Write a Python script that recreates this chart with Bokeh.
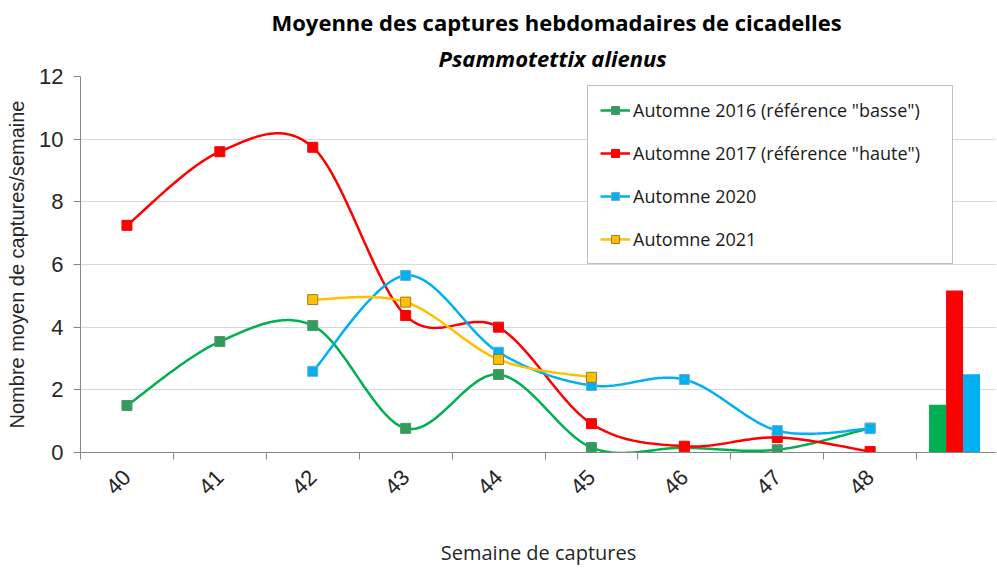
import math
import numpy as np
from bokeh.plotting import figure
from bokeh.models import (FixedTicker, Legend, LegendItem, Title, Range1d)
from bokeh.embed import file_html
from bokeh.resources import INLINE

# ---------------- data ----------------
weeks = ["40", "41", "42", "43", "44", "45", "46", "47", "48"]
series_names = ['Automne 2016 (référence "basse")',
                'Automne 2017 (référence "haute")',
                'Automne 2020',
                'Automne 2021']
s2016 = [1.50, 3.54, 4.05, 0.77, 2.49, 0.16, 0.15, 0.09, 0.78]
s2017 = [7.25, 9.60, 9.74, 4.37, 4.00, 0.92, 0.20, 0.48, 0.03]
s2020 = [None, None, 2.59, 5.65, 3.20, 2.14, 2.33, 0.70, 0.76]
s2021 = [None, None, 4.88, 4.80, 2.97, 2.40, None, None, None]
bar_values = [1.52, 5.17, 2.50, None]   # 2016, 2017, 2020, 2021 (empty)
y_ticks = [0, 2, 4, 6, 8, 10, 12]

# ---------------- styles ----------------
line_colors = ["#00B050", "#FF0000", "#00B0F0", "#FFC000"]
marker_fill = ["#2E9E5A", "#FF0000", "#00B0F0", "#FFC000"]
marker_line = ["#5C8F6C", "#FF0000", "#6FAECF", "#9C7A2E"]
bar_colors = ["#00B050", "#FF0000", "#00B0F0", "#FFC000"]


def smooth(xs, ys, n=40):
    """Excel-like smoothed line (Catmull-Rom as cubic Bezier)."""
    pts = list(zip(xs, ys))
    out_x, out_y = [], []
    m = len(pts)
    for i in range(m - 1):
        p0 = pts[i - 1] if i > 0 else pts[i]
        p1 = pts[i]
        p2 = pts[i + 1]
        p3 = pts[i + 2] if i + 2 < m else pts[i + 1]
        c1 = (p1[0] + (p2[0] - p0[0]) / 6, p1[1] + (p2[1] - p0[1]) / 6)
        c2 = (p2[0] - (p3[0] - p1[0]) / 6, p2[1] - (p3[1] - p1[1]) / 6)
        for t in np.linspace(0, 1, n, endpoint=(i == m - 2)):
            a = (1 - t) ** 3
            b = 3 * (1 - t) ** 2 * t
            c = 3 * (1 - t) * t ** 2
            d = t ** 3
            out_x.append(a * p1[0] + b * c1[0] + c * c2[0] + d * p2[0])
            out_y.append(a * p1[1] + b * c1[1] + c * c2[1] + d * p2[1])
    return out_x, out_y


p = figure(width=996, height=569, output_backend="svg", toolbar_location=None,
           x_range=Range1d(-0.5, 9.36), y_range=Range1d(0, 12),
           min_border_left=80, min_border_right=0, min_border_top=76,
           min_border_bottom=117)
p.outline_line_color = None
p.background_fill_color = "white"
p.border_fill_color = "white"

# titles (last added is outermost)
p.add_layout(Title(text="Psammotettix alienus", align="left",
                   text_font="Open Sans", text_font_style="bold italic",
                   text_font_size="22px", text_color="black",
                   text_line_height=1.0, offset=358, standoff=8), "above")
p.add_layout(Title(text="Moyenne des captures hebdomadaires de cicadelles",
                   align="left", text_font="Open Sans",
                   text_font_style="bold", text_font_size="22px",
                   text_color="black", offset=191, standoff=0), "above")

# grid
p.xgrid.grid_line_color = None
p.ygrid.ticker = FixedTicker(ticks=y_ticks[:-1])
p.ygrid.grid_line_color = "#D9D9D9"
p.ygrid.grid_line_width = 1

# y axis
p.yaxis.ticker = FixedTicker(ticks=y_ticks)
p.yaxis.axis_label = "Nombre moyen de captures/semaine"
p.yaxis.axis_label_text_font = "Liberation Sans"
p.yaxis.axis_label_text_font_style = "normal"
p.yaxis.axis_label_text_font_size = "20px"
p.yaxis.axis_label_text_color = "#262626"
p.yaxis.axis_label_standoff = 8
p.yaxis.major_label_text_font = "Liberation Sans"
p.yaxis.major_label_text_font_size = "22px"
p.yaxis.major_label_text_color = "#262626"
p.yaxis.major_label_standoff = 10
p.yaxis.axis_line_color = "#868686"
p.yaxis.major_tick_line_color = "#868686"
p.yaxis.major_tick_out = 7
p.yaxis.major_tick_in = 0
p.yaxis.minor_tick_line_color = None

# x axis
centers = list(range(len(weeks)))
bounds = [c - 0.5 for c in centers] + [len(weeks) - 0.5]
p.xaxis.ticker = FixedTicker(ticks=centers, minor_ticks=bounds)
p.xaxis.major_label_overrides = {c: w for c, w in zip(centers, weeks)}
p.xaxis.major_label_orientation = math.pi / 4
p.xaxis.major_label_text_font = "Liberation Sans"
p.xaxis.major_label_text_font_size = "22px"
p.xaxis.major_label_text_color = "#262626"
p.xaxis.major_label_standoff = 14
p.xaxis.major_tick_line_color = None
p.xaxis.minor_tick_line_color = "#868686"
p.xaxis.minor_tick_out = 7
p.xaxis.minor_tick_in = 0
p.xaxis.axis_line_color = "#868686"
p.xaxis.axis_label = "Semaine de captures"
p.xaxis.axis_label_text_font = "Open Sans"
p.xaxis.axis_label_text_font_style = "normal"
p.xaxis.axis_label_text_font_size = "20px"
p.xaxis.axis_label_text_color = "#262626"
p.xaxis.axis_label_standoff = 35

# bars in the extra slot (4 series, the last empty)
slot = len(weeks)
bw = 0.183
nb = len(bar_values)
for i, (v, col) in enumerate(zip(bar_values, bar_colors)):
    if v is None:
        continue
    p.vbar(x=[slot + (i - (nb - 1) / 2) * bw], top=[v], bottom=0, width=bw,
           fill_color=col, line_color=None)

# lines
items = []
for name, vals, lc, mf, ml in zip(series_names, [s2016, s2017, s2020, s2021],
                                   line_colors, marker_fill, marker_line):
    xs = [c for c, v in zip(centers, vals) if v is not None]
    ys = [v for v in vals if v is not None]
    sx, sy = smooth(xs, ys)
    r_line = p.line(sx, sy, line_color=lc, line_width=2.5)
    r_pts = p.scatter(xs, ys, marker="square", size=10, fill_color=mf,
                      line_color=ml, line_width=1)
    items.append(LegendItem(label=name, renderers=[r_line, r_pts]))

legend = Legend(items=items, location=(507, 188), orientation="vertical",
                label_text_font="Open Sans", label_text_font_size="18px",
                label_text_color="#1a1a1a", glyph_width=30, glyph_height=20,
                label_height=24, spacing=19, padding=12, margin=0,
                label_standoff=3, label_width=307,
                border_line_color="#7F7F7F", border_line_width=1,
                background_fill_color="white", background_fill_alpha=1)
p.add_layout(legend, "center")

open("out.html", "w").write(file_html(p, INLINE))
